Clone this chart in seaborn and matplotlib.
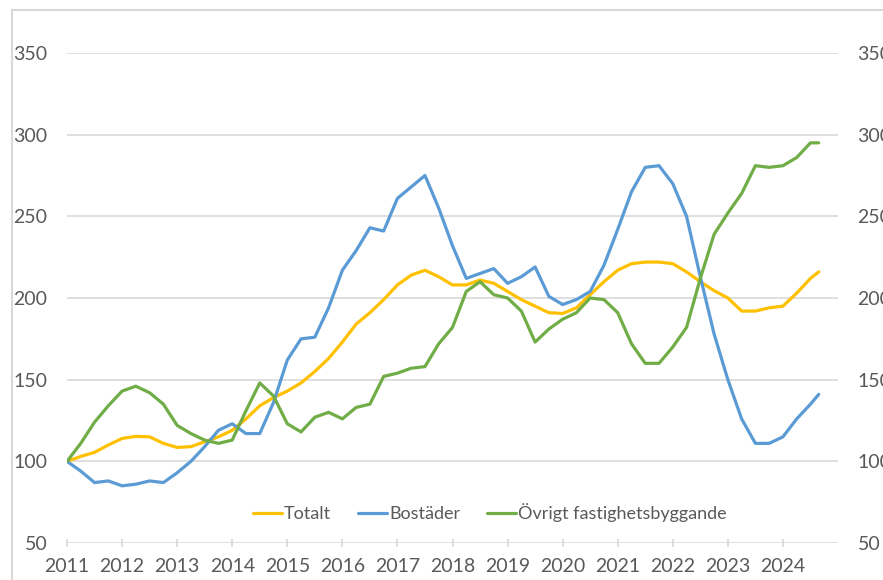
import numpy as np
import pandas as pd
import matplotlib
matplotlib.use("Agg")
import matplotlib.pyplot as plt
import seaborn as sns
from matplotlib.patches import Rectangle

# quarterly readings, last point Aug 2024
quarters = list(np.arange(2011, 2024.51, 0.25)) + [2024.65]

totalt = [100, 103, 105.5, 110, 114, 115.3, 115, 111, 108.5, 109, 112, 115,
          119, 126, 134, 139, 143, 148, 155, 163, 173, 184, 191, 199,
          208, 214, 217, 213, 208, 208, 211, 209, 204, 199, 195, 191,
          190.5, 194, 202, 210, 217, 221, 222, 222, 221, 216, 210, 204.5,
          200, 192, 192, 194, 195, 203, 212, 216]

bostader = [100, 94, 87, 88, 85, 86, 88, 87, 93, 100, 109, 119,
            123, 117, 117, 136, 162, 175, 176, 194, 217, 229, 243, 241,
            261, 268, 275, 255, 232, 212, 215, 218, 209, 213, 219, 201,
            196, 199, 204, 220, 242, 265, 280, 281, 270, 250, 213, 178,
            150, 126, 111, 111, 115, 126, 135, 141]

ovrigt = [100, 111, 124, 134, 143, 146, 142, 135, 122, 117, 113, 111,
          113, 131, 148, 140, 123, 118, 127, 130, 126, 133, 135, 152,
          154, 157, 158, 172, 182, 204, 210, 202, 200, 192, 173, 181,
          187, 191, 200, 199, 191, 172, 160, 160, 170, 182, 212, 239,
          252, 264, 281, 280, 281, 286, 295, 295]

series_names = ["Totalt", "Bostäder", "Övrigt fastighetsbyggande"]
colors = ["#FFC000", "#5B9BD5", "#70AD47"]
years = list(range(2011, 2025))
yticks = [50, 100, 150, 200, 250, 300, 350]

df = pd.DataFrame({
    "t": quarters * 3,
    "value": totalt + bostader + ovrigt,
    "serie": [series_names[0]] * len(quarters) + [series_names[1]] * len(quarters)
             + [series_names[2]] * len(quarters),
})

sns.set_theme(style="white")
plt.rcParams["font.family"] = ["Lato", "DejaVu Sans"]

fig = plt.figure(figsize=(8.83, 5.8), dpi=100)
ax = fig.add_axes([67 / 883, 37 / 580, (838 - 67) / 883, (543 - 53) / 580])

sns.lineplot(data=df, x="t", y="value", hue="serie", hue_order=series_names,
             palette=colors, linewidth=2.3, ax=ax, legend=False)

ax.set_xlim(2011, 2025)
ax.set_ylim(50, 350)
ax.set_xticks(years)
ax.set_xticklabels([str(y) for y in years])
ax.set_yticks(yticks)
ax.set_xlabel("")
ax.set_ylabel("")
for s in ax.spines.values():
    s.set_visible(False)
ax.grid(axis="y", color="#d9d9d9", linewidth=1.2)
ax.set_axisbelow(True)
ax.tick_params(axis="x", direction="inout", length=6, color="#d9d9d9",
               labelsize=14, labelcolor="#595959", pad=8, bottom=True)
ax.tick_params(axis="y", length=0, labelsize=14, labelcolor="#595959", pad=14)

ax2 = ax.twinx()
ax2.set_ylim(50, 350)
ax2.set_yticks(yticks)
for s in ax2.spines.values():
    s.set_visible(False)
ax2.tick_params(axis="y", length=0, labelsize=14, labelcolor="#595959", pad=14)

handles = [plt.Line2D([], [], color=c, linewidth=2.3) for c in colors]
fig.legend(handles, series_names, loc="center", bbox_to_anchor=(490 / 883, 1 - 513 / 580),
           ncol=3, frameon=False, fontsize=13, handlelength=1.6, handletextpad=0.1,
           columnspacing=1.5, labelcolor="#595959")

# outer chart frame (cropped screenshot)
fig.patches.append(Rectangle((12 / 883, -0.1), 1.2, 1 - 10 / 580 + 0.1,
                             transform=fig.transFigure, fill=False,
                             edgecolor="#d9d9d9", linewidth=1.5))

fig.savefig("out.png", dpi=100)
